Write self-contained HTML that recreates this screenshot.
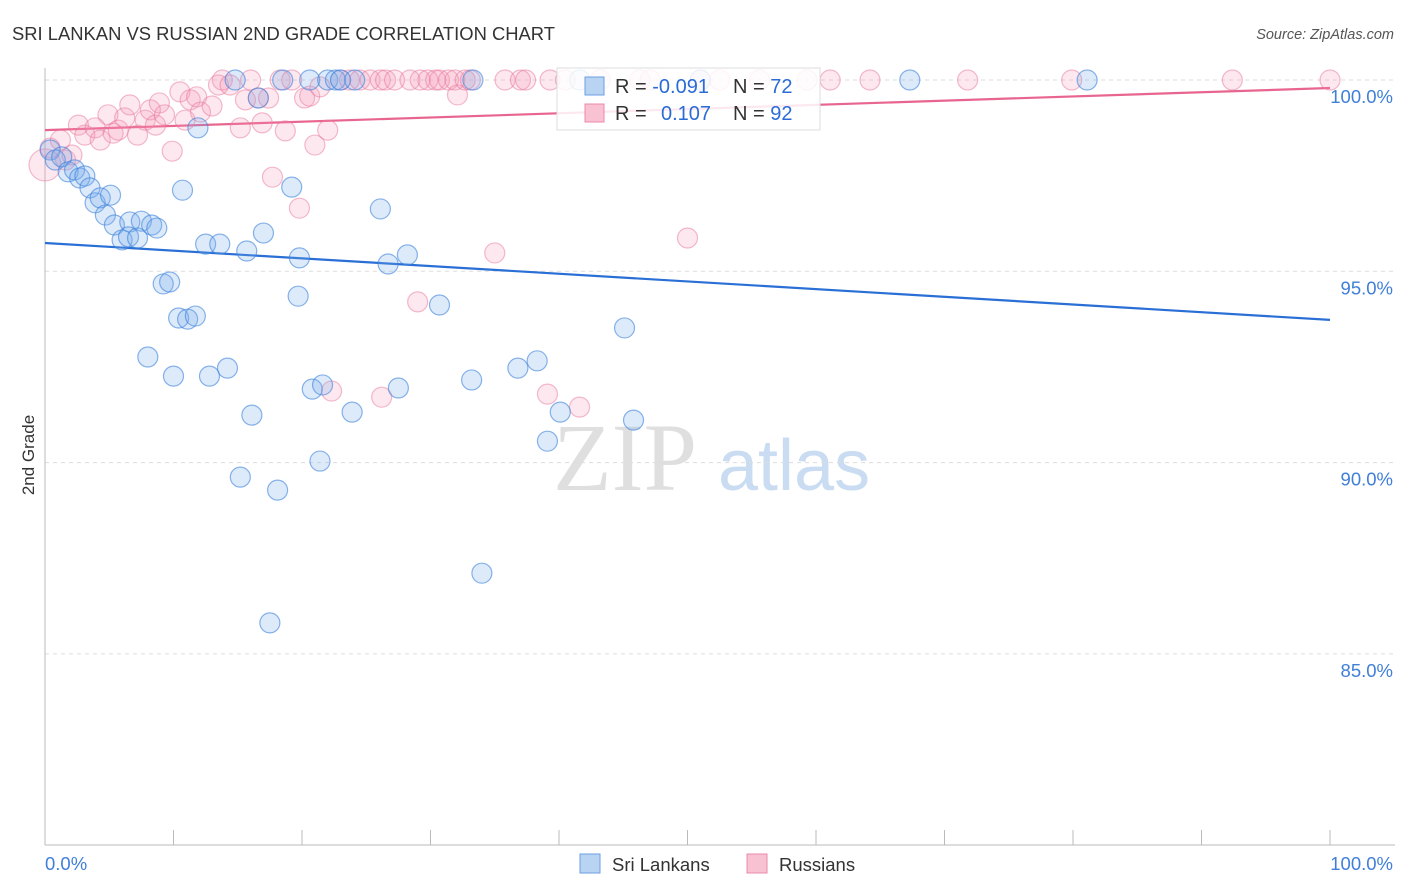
<!DOCTYPE html>
<html><head><meta charset="utf-8"><style>
body{margin:0;background:#fff;font-family:"Liberation Sans",sans-serif;}
svg{display:block}
</style></head><body>
<svg width="1406" height="892" viewBox="0 0 1406 892" id="chart">
<text x="12" y="40" font-size="18.4" fill="#333">SRI LANKAN VS RUSSIAN 2ND GRADE CORRELATION CHART</text>
<text x="1394" y="39" font-size="14.5" fill="#555" font-style="italic" text-anchor="end">Source: ZipAtlas.com</text>
<text transform="translate(34,455) rotate(-90)" font-size="17" fill="#333" text-anchor="middle">2nd Grade</text>
<g>
<text x="553" y="490" font-family="Liberation Serif,serif" font-size="96" fill="#d8d8d8" opacity="0.8">ZIP</text>
<text x="718" y="490" font-size="72" fill="#bcd4ef" opacity="0.8">atlas</text>
</g>
<g id="grid"></g><g id="axes"></g><g id="trends"></g><g id="pts"></g>
<g>
<rect x="557" y="68" width="263" height="62" fill="#fff" fill-opacity="0.85" stroke="#ddd"/>
<rect x="585" y="77" width="19" height="18" fill="#b9d3f3" stroke="#6a9fe0"/>
<text x="615" y="93" font-size="20" fill="#333">R = <tspan fill="#2a6bd6">-0.091</tspan><tspan x="733">N = </tspan><tspan fill="#2a6bd6">72</tspan></text>
<rect x="585" y="104" width="19" height="18" fill="#f9c2d3" stroke="#ec8aaa"/>
<text x="615" y="120" font-size="20" fill="#333">R = <tspan x="661" fill="#2a6bd6">0.107</tspan><tspan x="733">N = </tspan><tspan fill="#2a6bd6">92</tspan></text>
</g>
<g>
<rect x="580" y="854" width="20" height="19" fill="#b9d3f3" stroke="#6a9fe0"/>
<text x="612" y="871" font-size="18.5" fill="#333">Sri Lankans</text>
<rect x="747" y="854" width="20" height="19" fill="#f9c2d3" stroke="#ec8aaa"/>
<text x="779" y="871" font-size="18.5" fill="#333">Russians</text>
</g>
</svg>
<script>
const yTicks=[100,95,90,85];
const yTickLabels=["100.0%","95.0%","90.0%","85.0%"];
const xTickLabels=["0.0%","100.0%"];
const sriX=[0.4,0.8,1.3,1.8,2.3,2.7,3.1,3.5,3.9,4.3,5.1,4.7,5.4,6.0,6.6,6.5,7.2,7.5,8.3,8.7,10.7,11.9,9.2,9.7,10.4,11.1,11.7,8.0,10.0,12.5,12.8,13.6,14.2,14.8,15.2,15.7,16.1,16.6,17.0,17.5,18.1,18.5,19.2,19.8,19.7,20.6,20.8,21.4,21.6,22.0,22.6,23.0,23.9,24.1,26.1,26.7,27.5,28.2,30.7,33.2,33.3,34.0,36.8,38.3,39.1,40.1,45.1,45.8,67.3,81.1,41.6,51.0];
const sriY=[98.17,97.91,97.99,97.6,97.65,97.44,97.49,97.18,96.79,96.92,96.99,96.47,96.21,95.82,96.29,95.9,95.87,96.31,96.21,96.13,97.12,98.75,94.67,94.72,93.78,93.75,93.83,92.76,92.26,95.71,92.26,95.71,92.47,100,89.62,95.53,91.24,99.53,96.0,85.81,89.28,100,97.2,95.35,94.35,100,91.92,90.04,92.03,100,100,100,91.32,100,96.63,95.19,91.95,95.43,94.12,92.16,100,87.11,92.47,92.66,90.56,91.32,93.52,91.11,100,100,100,100];
const rusX=[0,0.4,1.2,1.6,2.1,2.6,3.1,3.9,4.3,4.9,5.3,5.7,6.2,6.6,7.2,7.8,8.2,8.6,8.9,9.3,9.9,10.5,10.9,11.3,11.8,12.1,13.0,13.5,13.8,14.4,15.2,15.6,16.0,16.6,16.9,17.4,17.7,18.3,18.7,19.2,19.8,20.2,20.6,21.0,21.4,22.0,22.3,23.0,23.7,24.5,25.3,26.1,26.2,26.5,27.2,28.4,29.0,29.2,29.8,30.4,30.7,31.4,31.9,32.1,32.7,33.1,35.0,35.8,37.0,37.4,39.1,39.3,40.5,41.6,43.2,46.3,47.1,50.0,51.0,52.5,55.6,59.3,61.1,64.2,71.8,79.9,92.4,100];
const rusY=[97.78,98.22,98.43,97.91,98.04,98.82,98.56,98.75,98.43,99.09,98.61,98.69,99.01,99.35,98.56,98.95,99.22,98.82,99.4,99.09,98.14,99.69,98.95,99.48,99.56,99.16,99.32,99.87,100,99.87,98.75,99.48,100,99.53,98.88,99.53,97.46,100,98.67,100,96.65,99.53,99.58,98.3,99.82,98.69,91.87,100,100,100,100,100,91.71,100,100,100,94.2,100,100,100,100,100,100,99.61,100,100,95.48,100,100,100,91.79,100,100,91.45,100,100,100,95.87,100,100,100,100,100,100,100,100,100,100];
const sriTrend=[95.74,93.73];
const rusTrend=[98.69,99.79];
const NS="http://www.w3.org/2000/svg";
const X0=45,X1=1330,Y100=80,PXPER=38.26;
const xs=v=>X0+(X1-X0)*v/100;
const ys=v=>Y100+(100-v)*PXPER;
function mk(t,a,p){const e=document.createElementNS(NS,t);for(const k in a)e.setAttribute(k,a[k]);p.appendChild(e);return e;}
const grid=document.getElementById('grid'),axes=document.getElementById('axes');
yTicks.forEach((t,i)=>{
 const l=mk('line',{x1:X0,x2:1395,y1:ys(t),y2:ys(t),stroke:'#ddd','stroke-dasharray':'4,4'},grid);
 
 
 const tx=mk('text',{x:1393,y:ys(t)+23,'font-size':18.5,fill:'#3f7fd8','text-anchor':'end'},axes);
 tx.textContent=yTickLabels[i];
 
 
});
const ax=mk('line',{x1:X0,x2:X0,y1:68,y2:845,stroke:'#bbb'},axes);


const bx=mk('line',{x1:X0,x2:1395,y1:845,y2:845,stroke:'#bbb'},axes);


for(let i=0;i<=10;i++){
 const t=mk('line',{x1:xs(i*10),x2:xs(i*10),y1:830,y2:845,stroke:'#bbb'},axes);
 
 
}
[[xTickLabels[0],45,'start'],[xTickLabels[1],1393,'end']].forEach(d=>{
 const t=mk('text',{x:d[1],y:870,'font-size':18.5,fill:'#3f7fd8','text-anchor':d[2]},axes);
 t.textContent=d[0];
 
 
});
const pts=document.getElementById('pts');
rusX.forEach((x,i)=>{
 const c=mk('circle',{cx:xs(x),cy:ys(rusY[i]),r:i==0?16:10,fill:'rgba(244,150,180,0.22)',stroke:'rgba(232,120,155,0.5)','stroke-width':1.2},pts);
 
 
});
sriX.forEach((x,i)=>{
 const c=mk('circle',{cx:xs(x),cy:ys(sriY[i]),r:10,fill:'rgba(120,170,235,0.25)',stroke:'rgba(60,130,220,0.6)','stroke-width':1.2},pts);
 
 
});
const tr=document.getElementById('trends');
const t1=mk('line',{x1:xs(0),x2:xs(100),y1:ys(sriTrend[0]),y2:ys(sriTrend[1]),stroke:'#2a6fd6','stroke-width':2.2},tr);


const t2=mk('line',{x1:xs(0),x2:xs(100),y1:ys(rusTrend[0]),y2:ys(rusTrend[1]),stroke:'#e8658f','stroke-width':2.2},tr);


</script>
</body></html>
